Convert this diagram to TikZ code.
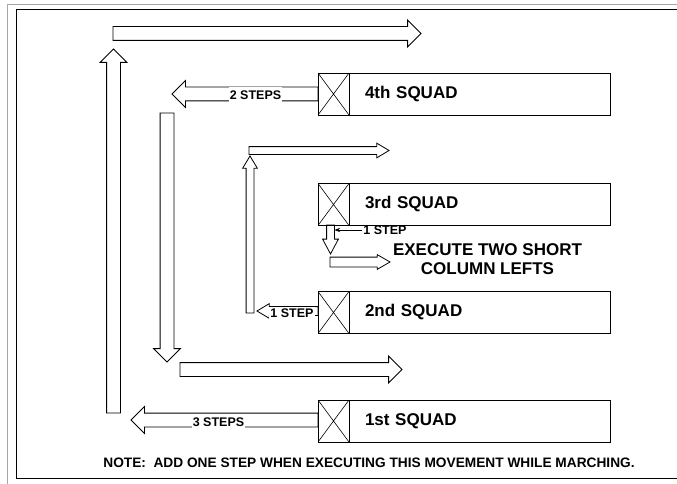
\documentclass[tikz,border=0pt]{standalone}
\usepackage{fontspec}
\setmainfont{Liberation Sans}
\usetikzlibrary{arrows.meta, shapes.arrows, positioning}

\begin{document}
\begin{tikzpicture}[x=1pt,y=-1pt,line width=0.8pt,>={Stealth},
      blk/.style={draw,single arrow,inner xsep=0pt,inner ysep=6.5pt,outer sep=0pt,
        single arrow head extend=6.5pt,anchor=tail},
      thin blk/.style={blk,inner ysep=3.5pt,single arrow head extend=3.5pt,single arrow tip angle=62},
      xbox/.style={draw,minimum width=31pt,minimum height=42pt,inner sep=0pt,outer sep=0pt,
        path picture={\draw[line width=0.6pt] (path picture bounding box.north west) -- (path picture bounding box.south east)
          (path picture bounding box.south west) -- (path picture bounding box.north east);}},
      squad/.style={draw,minimum height=42pt,text width=229pt,inner xsep=16pt,inner ysep=0pt,outer sep=0pt,
        font=\fontsize{17}{20}\selectfont\bfseries,right=0pt of #1},
      steps/.style={fill=white,inner xsep=1pt,inner ysep=2pt,minimum height=16pt,
        font=\fontsize{12.5}{14}\selectfont\bfseries}]

  \useasboundingbox (0,0) rectangle (677,484);
  % frame
  \draw[gray!70] (677,4) -- (7.5,4) -- (7.5,484);
  \draw[line width=1pt] (677,9.5) -- (16,9.5) -- (16,478) -- (677,478);

  % squads
  \node[xbox] (x_4) at (333.5,94) {};
  \node[squad=x_4] (sq_4) {4th SQUAD};
  \node[xbox] (x_3) at (333.5,204.5) {};
  \node[squad=x_3] (sq_3) {3rd SQUAD};
  \node[xbox] (x_2) at (333.5,312.5) {};
  \node[squad=x_2] (sq_2) {2nd SQUAD};
  \node[xbox] (x_1) at (333.5,421) {};
  \node[squad=x_1] (sq_1) {1st SQUAD};

  % outer moves (placed by their tails)
  \node[blk,minimum height=308pt] (a_top) at (113,33.5) {};
  \node[blk,minimum height=364pt,rotate=90] (a_up) at (113.5,413) {};
  \node[blk,minimum height=249pt,rotate=-90] (a_down) at (167,113) {};
  \node[blk,minimum height=222pt] (a_bot) at (180,369.5) {};
  \node[blk,minimum height=146pt,rotate=180] (a_two) at (x_4.west) {};
  \node[blk,minimum height=187pt,rotate=180] (a_three) at ([yshift=1pt]x_1.west) {};
  \node[steps] (lbl_two) at (255.5,95) {2 STEPS};
  \node[steps] (lbl_three) at (218.5,422) {3 STEPS};

  % inner moves
  \node[thin blk,minimum height=157pt,rotate=90] (a_midup) at (250,313) {};
  \node[thin blk,minimum height=140pt] (a_midright) at (249,150.5) {};
  \node[thin blk,minimum height=61pt,rotate=180,inner ysep=4pt,single arrow head extend=3pt] (a_one) at ([yshift=1.5pt]x_2.west) {};
  \node[steps,minimum height=10pt] (lbl_one) at (292,313) {1 STEP};

  \node[thin blk,minimum height=29pt,rotate=-90,single arrow head extend=4pt,single arrow tip angle=56] (a_col) at (330.5,225) {};
  \node[thin blk,minimum height=60pt,inner ysep=4.5pt,single arrow head extend=2.5pt,single arrow tip angle=60] (a_colr) at (330,262) {};
  \node[steps,fill=none,minimum height=0pt,anchor=west] (lbl_col) at (362,230) {1 STEP};
  \draw[->,line width=0.6pt,shorten >=4pt] (lbl_col.west) -- (lbl_col.west -| a_col.tail);

  \node[font=\fontsize{17}{18.5}\selectfont\bfseries,align=center] (txt_col) at (487.5,259)
    {EXECUTE TWO SHORT\\COLUMN LEFTS};
  \node[font=\fontsize{13.7}{16}\selectfont\bfseries] (txt_note) at (369,463)
    {NOTE:\ \ ADD ONE STEP WHEN EXECUTING THIS MOVEMENT WHILE MARCHING.};
\end{tikzpicture}
\end{document}
